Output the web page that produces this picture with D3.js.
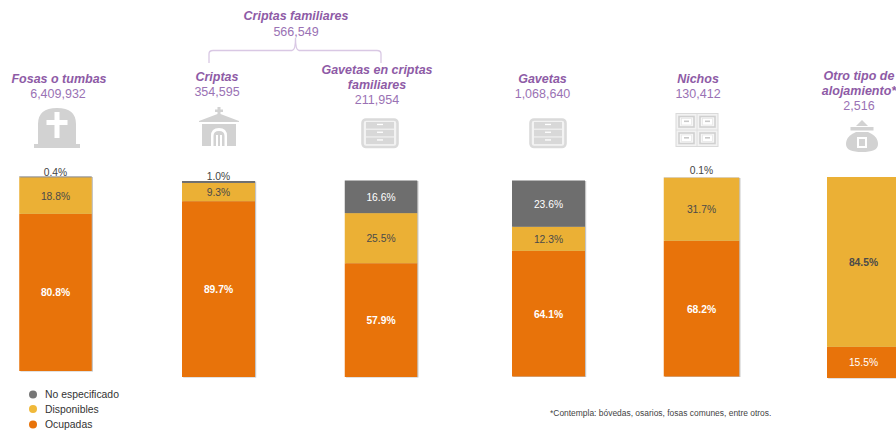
<!DOCTYPE html>
<html lang="es">

<head>
    <meta charset="UTF-8">
    <title>Espacios de alojamiento</title>
    <script src="https://d3js.org/d3.v7.min.js"></script>
    <style>
        html, body { margin: 0; padding: 0; background: #fff; overflow: hidden; }
        svg { display: block; font-family: "Liberation Sans", Arial, sans-serif; }
    </style>
</head>

<body>
    <svg id="chart" width="896" height="433" viewBox="0 0 896 433"></svg>
    <script>
        // Values
        const categories = ["Fosas o tumbas", "Criptas", "Gavetas en criptas familiares", "Gavetas", "Nichos", "Otro tipo de alojamiento*"];
        const totals = ["6,409,932", "354,595", "211,954", "1,068,640", "130,412", "2,516"];
        const ocupadas = [80.8, 89.7, 57.9, 64.1, 68.2, 15.5];
        const disponibles = [18.8, 9.3, 25.5, 12.3, 31.7, 84.5];
        const noEspecificado = [0.4, 1.0, 16.6, 23.6, 0.1, 0];
        const legendLabels = ["No especificado", "Disponibles", "Ocupadas"];
        const groupLabel = "Criptas familiares";
        const groupTotal = "566,549";
        const footnote = "*Contempla: bóvedas, osarios, fosas comunes, entre otros.";

        const colors = { ocupadas: "#E8730A", disponibles: "#EBB035", noEspecificado: "#6E6E6E" };
        const purple = "#8E5BA6";
        const purpleLight = "#9A72B4";
        const iconGrey = "#D2D2D2";

        const svg = d3.select("#chart");

        // The columns are not evenly spaced in the original
        const x = d3.scaleOrdinal().domain(categories).range([55.5, 218.5, 381, 548.5, 701.5, 863.5]);
        const barW = d3.scaleOrdinal().domain(categories).range([72.5, 73, 72.5, 73, 75.5, 73]);
        const barTop = d3.scaleOrdinal().domain(categories).range([176.5, 181, 180.5, 180.5, 177.5, 177]);
        const barBottom = d3.scaleOrdinal().domain(categories).range([371, 377, 377, 376.5, 376.5, 378]);
        const smallLabelLift = d3.scaleOrdinal().domain(categories).range([1, 1.5, 1, 1, 3.5, 1]);

        const defs = svg.append("defs");
        const blur = defs.append("filter").attr("id", "shadow")
            .attr("x", "-10%").attr("y", "-10%").attr("width", "120%").attr("height", "120%");
        blur.append("feGaussianBlur").attr("stdDeviation", 0.7);

        categories.forEach((cat, i) => {
            const y = d3.scaleLinear().domain([0, 100]).range([barBottom(cat), barTop(cat)]);
            const left = x(cat) - barW(cat) / 2;
            const g = svg.append("g").attr("class", "bar");

            g.append("rect")
                .attr("x", left + 1.2).attr("y", y(100) + 0.5)
                .attr("width", barW(cat)).attr("height", y(0) - y(100))
                .attr("fill", "#c4c4c4").attr("filter", "url(#shadow)");

            const stack = [
                { key: "ocupadas", v: ocupadas[i] },
                { key: "disponibles", v: disponibles[i] },
                { key: "noEspecificado", v: noEspecificado[i] }
            ];
            let acc = 0;
            stack.forEach(s => {
                s.y0 = acc;
                acc += s.v;
                s.y1 = acc;
            });

            g.selectAll("rect.seg")
                .data(stack.filter(s => s.v > 0))
                .enter().append("rect")
                .attr("class", "seg")
                .attr("x", left)
                .attr("y", s => y(s.y1))
                .attr("width", barW(cat))
                .attr("height", s => y(s.y0) - y(s.y1))
                .attr("fill", s => colors[s.key]);

            g.selectAll("text")
                .data(stack.filter(s => s.v > 0))
                .enter().append("text")
                .attr("x", x(cat))
                // thin slices get the label above the bar
                .attr("y", s => s.v < 2 ? y(100) - smallLabelLift(cat) : (y(s.y0) + y(s.y1)) / 2 + 4)
                .attr("text-anchor", "middle")
                .attr("font-size", 10.3)
                .attr("font-weight", s => (s.key === "ocupadas" && s.v > 20) || (cat.startsWith("Otro") && s.key === "disponibles") ? "bold" : "normal")
                .attr("fill", s => s.v < 2 ? "#444" : (s.key === "disponibles" ? "#4a4a4a" : "#fff"))
                .text(s => s.v.toFixed(1) + "%");
        });

        // Column titles
        const titleLines = [["Fosas o tumbas"], ["Criptas"], ["Gavetas en criptas", "familiares"], ["Gavetas"], ["Nichos"], ["Otro tipo de", "alojamiento*"]];
        const titleY = [83, 81, 74, 83, 83, 80];
        const titleX = [59, 217, 377, 542.5, 698, 859];

        categories.forEach((cat, i) => {
            const t = svg.append("g").attr("class", "title");
            titleLines[i].forEach((line, j) => {
                t.append("text")
                    .attr("x", titleX[i]).attr("y", titleY[i] + j * 15)
                    .attr("text-anchor", "middle")
                    .attr("font-size", 12.5).attr("font-weight", "bold").attr("font-style", "italic")
                    .attr("fill", purple)
                    .text(line);
            });
            t.append("text")
                .attr("x", i === 0 ? 58 : titleX[i]).attr("y", titleY[i] + titleLines[i].length * 15)
                .attr("text-anchor", "middle")
                .attr("font-size", 12.5)
                .attr("fill", purpleLight)
                .text(totals[i]);
        });

        // Group header and bracket
        svg.append("text").attr("x", 296).attr("y", 20)
            .attr("text-anchor", "middle").attr("font-size", 12.5)
            .attr("font-weight", "bold").attr("font-style", "italic").attr("fill", purple)
            .text(groupLabel);
        svg.append("text").attr("x", 296).attr("y", 36)
            .attr("text-anchor", "middle").attr("font-size", 12.5).attr("fill", purpleLight)
            .text(groupTotal);
        svg.append("path")
            .attr("d", "M209,63 V54 Q209,50.5 213,50.5 H292 Q295.5,50.5 295.5,38 Q295.5,50.5 299,50.5 H377 Q381,50.5 381,54 V63")
            .attr("fill", "none").attr("stroke", "#D9C8E4").attr("stroke-width", 1.3);

        // Icons
        function tomb(cx, top) {
            const g = svg.append("g").attr("transform", `translate(${cx},${top})`).attr("fill", iconGrey);
            g.append("path").attr("d", "M-19,36 V16 Q-19,0 0,0 Q19,0 19,16 V36 H23 V40 H-23 V36 Z");
            g.append("path").attr("d", "M-2.5,4 H2.5 V12 H10.5 V17 H2.5 V30 H-2.5 V17 H-10.5 V12 H-2.5 Z").attr("fill", "#fff");
        }
        function chapel(cx, top) {
            const g = svg.append("g").attr("transform", `translate(${cx},${top})`).attr("fill", iconGrey);
            g.append("path").attr("d", "M-1.5,0 H1.5 V2.5 H4 V5 H1.5 V7 L20,14 V15 H-20 V14 L-1.5,7 V5 H-4 V2.5 H-1.5 Z");
            g.append("path").attr("d", "M-17,17 H17 V39 H-17 Z");
            g.append("path").attr("d", "M-8,39 V29 Q-8,21 0,21 Q8,21 8,29 V39 Z").attr("fill", "#fff");
            g.append("path").attr("d", "M-5.5,39 V29 Q-5.5,24 0,24 Q5.5,24 5.5,29 V39 H3 V28 H1 V39 H-1 V28 H-3 V39 Z");
        }
        function drawers(cx, top) {
            const g = svg.append("g").attr("transform", `translate(${cx},${top})`);
            g.append("rect").attr("x", -17.5).attr("y", 0).attr("width", 35).attr("height", 27.5).attr("rx", 3.5)
                .attr("fill", "#F3F3F3").attr("stroke", "#DADADA").attr("stroke-width", 2.6);
            [2.5, 10.3, 18].forEach(dy => {
                g.append("rect").attr("x", -14).attr("y", dy).attr("width", 28).attr("height", 6.6)
                    .attr("fill", "#D8D8D8");
                g.append("rect").attr("x", -3).attr("y", dy + 1.8).attr("width", 6).attr("height", 1.3).attr("fill", "#fff");
            });
        }
        function niches(cx, top) {
            const g = svg.append("g").attr("transform", `translate(${cx},${top})`);
            g.append("rect").attr("x", -21).attr("y", 0).attr("width", 42).attr("height", 33)
                .attr("fill", "#F2F2F2").attr("stroke", "#DADADA").attr("stroke-width", 1);
            g.append("path").attr("d", "M0,0 V33 M-21,16.5 H21").attr("stroke", "#DADADA").attr("stroke-width", 0.8);
            [[-20, 1], [1, 1], [-20, 17.5], [1, 17.5]].forEach(p => {
                g.append("rect").attr("x", p[0] + 2).attr("y", p[1] + 2).attr("width", 15).attr("height", 10.5)
                    .attr("fill", "#F7F7F7").attr("stroke", "#D0D0D0").attr("stroke-width", 1.6);
                g.append("rect").attr("x", p[0] + 4.5).attr("y", p[1] + 4).attr("width", 10).attr("height", 6.5)
                    .attr("fill", "#fff").attr("stroke", "#E2E2E2").attr("stroke-width", 0.6);
                g.append("rect").attr("x", p[0] + 7).attr("y", p[1] + 6).attr("width", 5).attr("height", 1.6).attr("fill", "#C9C9C9");
            });
        }
        function sack(cx, top) {
            const g = svg.append("g").attr("transform", `translate(${cx},${top})`).attr("fill", iconGrey);
            g.append("path").attr("d", "M-6,7 L0,1 L6,7 Z");
            g.append("rect").attr("x", -11.5).attr("y", 8).attr("width", 23).attr("height", 3.5);
            g.append("path").attr("d", "M-6,13 H6 C13,16 16,20 16,25 C16,31 10,33 0,33 C-10,33 -16,31 -16,25 C-16,20 -13,16 -6,13 Z");
            g.append("rect").attr("x", -5).attr("y", 18).attr("width", 10).attr("height", 11).attr("fill", "#fff");
            g.append("rect").attr("x", -3).attr("y", 20).attr("width", 6).attr("height", 7);
        }
        tomb(57, 108);
        chapel(219, 107);
        drawers(380, 119.5);
        drawers(548, 119.5);
        niches(697, 113.5);
        sack(862, 119);

        // Legend
        const legendKeys = ["noEspecificado", "disponibles", "ocupadas"];
        const legendY = [394.5, 409, 424.5];
        legendLabels.forEach((label, i) => {
            svg.append("circle").attr("cx", 33).attr("cy", legendY[i]).attr("r", 4)
                .attr("fill", i === 0 ? "#777" : i === 1 ? "#F0B93A" : colors[legendKeys[i]]);
            svg.append("text").attr("x", 45).attr("y", legendY[i] + 3.5)
                .attr("font-size", 10.4).attr("fill", "#333").text(label);
        });

        svg.append("text").attr("x", 550).attr("y", 416)
            .attr("font-size", 8.45).attr("fill", "#444").text(footnote);
    </script>
</body>

</html>
